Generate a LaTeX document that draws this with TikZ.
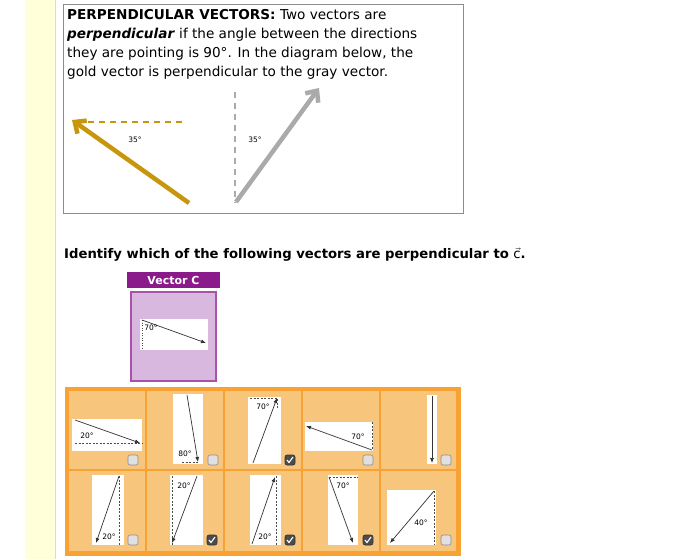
\documentclass[tikz,border=0pt]{standalone}
\usepackage{fontspec}
\setmainfont{DejaVu Sans}
\usetikzlibrary{arrows.meta}
\definecolor{gold}{HTML}{C8960C}
\definecolor{vgray}{HTML}{AAAAAA}
\definecolor{ylw}{HTML}{FFFFD9}
\definecolor{purp}{HTML}{8B1A8B}
\definecolor{lpurp}{HTML}{D9B8E0}
\definecolor{orng}{HTML}{F7A233}
\definecolor{lorng}{HTML}{F8C57D}
\tikzset{
 vec/.style={draw=black!80,line width=0.7pt,-{Latex[length=5pt,width=4pt]}},
 guide/.style={draw=black!70,dashed,line width=0.5pt,dash pattern=on 2pt off 1.5pt},
 ang/.style={font=\fontsize{7.5}{8}\selectfont,inner sep=0pt},
 cell/.style={fill=lorng,draw=orng,line width=1.5pt},
}
\newcommand{\unchk}[2]{\draw[fill=black!12,draw=black!45,rounded corners=2pt,line width=0.6pt] (#1-5,#2-5) rectangle (#1+5,#2+5);}
\newcommand{\chk}[2]{\draw[fill=black!70,draw=black!80,rounded corners=2pt,line width=0.6pt] (#1-5,#2-5) rectangle (#1+5,#2+5);
 \draw[white,line width=1.1pt] (#1-3,#2) -- (#1-1,#2+2.5) -- (#1+3,#2-3);}
\begin{document}
\begin{tikzpicture}[x=1pt,y=-1pt]
\useasboundingbox (0,0) rectangle (700,559);
\fill[white] (0,0) rectangle (700,559);
\fill[ylw] (25,0) rectangle (55,559);
\draw[black!15] (55,0) -- (55,559);
\draw[black!45,line width=1pt,fill=white] (63,5) rectangle (463,213);
\node[anchor=north west,align=left,inner sep=0pt,font=\fontsize{13.6}{19}\selectfont] (intro) at (67,9)
 {\textbf{PERPENDICULAR VECTORS:} Two vectors are\\ \textbf{\textit{perpendicular}} if the angle between the directions\\ they are pointing is 90°. In the diagram below, the\\ gold vector is perpendicular to the gray vector.};
\draw[gold,line width=2pt,dash pattern=on 6pt off 5pt] (182,122) -- (78,122);
\draw[gold,line width=4.5pt,-{Straight Barb[length=9pt,width=16pt]}] (189,203) -- (72,120);
\node[ang] at (135,140) {35°};
\draw[vgray,line width=2pt,dash pattern=on 6pt off 5pt] (235,92) -- (235,203);
\draw[vgray,line width=4.5pt,-{Straight Barb[length=9pt,width=16pt]}] (236,202) -- (319,88);
\node[ang] at (255,140) {35°};
\node[anchor=west,inner sep=0pt,font=\fontsize{13.2}{15}\selectfont\bfseries] (q) at (64,255) {Identify which of the following vectors are perpendicular to $\vec{\mathrm{c}}$.};
\fill[purp] (127,272) rectangle (220,288);
\node[white,font=\fontsize{11}{12}\selectfont\bfseries] at (173.5,280.5) {Vector C};
\draw[fill=lpurp,draw=purp!75,line width=1.5pt] (131,292) rectangle (216,381);
\fill[white] (140,319) rectangle (208,350);
\draw[guide,dotted] (142,320) -- (142,349);
\draw[vec] (142,320) -- (206,343);
\node[ang] at (151,328) {70°};
\draw[orng,line width=3pt] (66,388) rectangle (459,554);
\foreach \x/\xx in {68/146,146/224,224/302,302/380,380/457}
 \foreach \y/\yy in {390/470,470/552}
  \draw[cell] (\x,\y) rectangle (\xx,\yy);
\fill[white] (72,419) rectangle (142,451);
\draw[guide] (75,443) -- (142,443);
\draw[vec] (75,420) -- (140,443);
\node[ang] at (87,436) {20°};
\unchk{133}{460}
\fill[white] (173,394) rectangle (203,464);
\draw[guide] (182,462) -- (199,462);
\draw[vec] (187,395) -- (198,462);
\node[ang] at (185,454) {80°};
\unchk{213}{460}
\fill[white] (248,397) rectangle (281,464);
\draw[guide] (250,398) -- (277,398) -- (277,408);
\draw[vec] (253,463) -- (277,398);
\node[ang] at (263,407) {70°};
\chk{290}{460}
\fill[white] (305,422) rectangle (373,451);
\draw[guide] (372,422) -- (372,450);
\draw[vec] (372,450) -- (306,426);
\node[ang] at (358,437) {70°};
\unchk{368}{460}
\fill[white] (427,395) rectangle (437,464);
\draw[vec] (432,396) -- (432,463);
\unchk{446}{460}
\fill[white] (92,475) rectangle (124,545);
\draw[guide] (119,476) -- (119,545);
\draw[vec] (119,476) -- (96,543);
\node[ang] at (109,537) {20°};
\unchk{133}{540}
\fill[white] (170,475) rectangle (203,545);
\draw[guide] (172,476) -- (172,545);
\draw[vec] (197,476) -- (172,543);
\node[ang] at (184,486) {20°};
\chk{212}{540}
\fill[white] (250,475) rectangle (281,545);
\draw[guide] (276,476) -- (276,545);
\draw[vec] (252,544) -- (275,477);
\node[ang] at (265,537) {20°};
\chk{290}{540}
\fill[white] (328,475) rectangle (358,545);
\draw[guide] (329,477) -- (358,477);
\draw[vec] (329,477) -- (353,543);
\node[ang] at (343,486) {70°};
\chk{368}{540}
\fill[white] (387,490) rectangle (436,545);
\draw[guide] (434,491) -- (434,545);
\draw[vec] (434,491) -- (390,543);
\node[ang] at (421,523) {40°};
\unchk{446}{540}
\end{tikzpicture}
\end{document}
